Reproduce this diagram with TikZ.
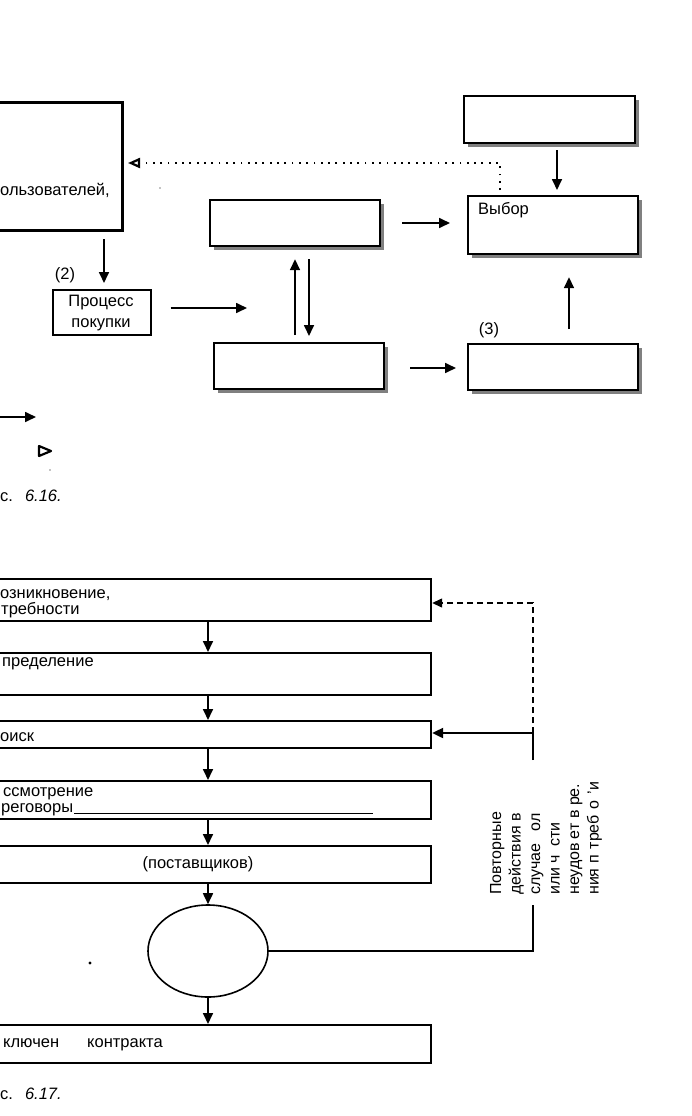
\documentclass[tikz,border=0pt]{standalone}
\usepackage{fontspec}
\setmainfont{Liberation Sans}
\usetikzlibrary{arrows.meta,shadows,shapes.geometric}
\begin{document}
\begin{tikzpicture}[x=1pt,y=-1pt,
  txt/.style={inner sep=0pt, font=\fontsize{16.5}{21}\selectfont},
  btxt/.style={inner sep=0pt, font=\fontsize{16.5}{16}\selectfont},
  box/.style={draw, fill=white, line width=2.2pt, anchor=north west, inner sep=0pt},
  sbox/.style={box, drop shadow={shadow xshift=4pt, shadow yshift=-4pt, fill=black!50, opacity=1}},
  arr/.style={line width=1.7pt, -{Triangle[length=11pt,width=10pt]}},
  thinl/.style={line width=1.4pt},
]
\useasboundingbox (0,0) rectangle (692,1116);
\fill[white] (0,0) rectangle (692,1116);

% ---------- Fig. 6.16 ----------
\node[box, line width=3pt, minimum width=141pt, minimum height=128pt] (big) at (-20,101) {};
\node[txt, anchor=base west] (bigt) at (0,195) {ользователей,};
\node[box, line width=1.6pt, minimum width=98pt, minimum height=45pt] (proc) at (52,289) {};
\node[txt, align=center] (proct) at (101,313) {Процесс\\покупки};
\node[sbox, minimum width=170pt, minimum height=46pt] (A) at (209,199) {};
\node[sbox, minimum width=170pt, minimum height=46pt] (B) at (213,342) {};
\node[sbox, minimum width=171pt, minimum height=47pt] (T) at (463,95) {};
\node[sbox, minimum width=170pt, minimum height=58pt] (V) at (467,195) {};
\node[sbox, minimum width=170pt, minimum height=46pt] (C) at (467,343) {};
\node[txt, anchor=base west] (vt) at (478,214) {Выбор};
\node[txt, anchor=base] (l2) at (65,279) {(2)};
\node[txt, anchor=base] (l3) at (489,334) {(3)};

\coordinate (p2) at (104,0);
\draw[arr, shorten <=7pt, shorten >=6pt] (big.south -| p2) -- (proc.north -| p2);
\coordinate (pa) at (247,308);
\draw[arr, shorten <=19pt] (proc.east |- pa) -- (pa);
\coordinate (up) at (295,0);
\coordinate (dn) at (309,0);
\draw[arr, shorten <=7pt, shorten >=12pt] (B.north -| up) -- (A.south -| up);
\draw[arr, shorten <=12pt, shorten >=6pt] (A.south -| dn) -- (B.north -| dn);
\coordinate (av) at (0,223);
\draw[arr, shorten <=21pt, shorten >=17pt] (A.east |- av) -- (V.west |- av);
\coordinate (tv) at (557,0);
\draw[arr, shorten <=6pt, shorten >=5pt] (T.south -| tv) -- (V.north -| tv);
\coordinate (cv) at (569,0);
\draw[arr, shorten <=14pt, shorten >=22pt] (C.north -| cv) -- (V.south -| cv);
\coordinate (bc) at (0,368);
\draw[arr, shorten <=25pt, shorten >=11pt] (B.east |- bc) -- (C.west |- bc);

\coordinate (dc) at (500,163);
\draw[line width=1.6pt, dash pattern=on 1.8pt off 5.5pt, -{Triangle[open,length=12pt,width=10pt,line width=2.2pt,sep=0pt]}, shorten >=4pt]
  ([yshift=5pt]V.north -| dc) -- (dc) -- (big.east |- dc);

% legend
\coordinate (la) at (0,417);
\coordinate (lb) at (36,417);
\draw[arr] (la) -- (lb);
\draw[line width=2.2pt, line join=round] (39,446) -- (51,451) -- (39,456) -- cycle;
\node[anchor=base west, inner sep=0pt, font=\fontsize{16.5}{18}\selectfont] (cap1) at (0,501) {с.\hspace{12pt}\textit{6.16.}};
\fill (160,188) circle (0.7);
\fill (50,470) circle (0.7);

% ---------- Fig. 6.17 ----------
\node[box, minimum width=450pt, minimum height=42pt] (b1) at (-20,578) {};
\node[box, minimum width=450pt, minimum height=42pt] (b2) at (-20,652) {};
\node[box, minimum width=450pt, minimum height=27pt] (b3) at (-20,720) {};
\node[box, minimum width=450pt, minimum height=38pt] (b4) at (-20,780) {};
\node[box, minimum width=450pt, minimum height=37pt] (b5) at (-20,845) {};
\node[draw, ellipse, line width=1.6pt, minimum width=120pt, minimum height=92pt, inner sep=0pt] (ell) at (208,951) {};
\node[box, minimum width=450pt, minimum height=38pt] (b7) at (-20,1024) {};

\node[btxt, anchor=base west] (t1a) at (0,598) {озникновение,};
\node[btxt, anchor=base west] (t1b) at (1,614) {требности};
\node[btxt, anchor=base west] (t2) at (2,666) {пределение};
\node[btxt, anchor=base west] (t3) at (0,741) {оиск};
\node[btxt, anchor=base west] (t4a) at (3,796) {ссмотрение};
\node[btxt, anchor=base west] (t4b) at (1,812) {реговоры};
\draw[line width=0.9pt] ([xshift=1pt,yshift=-1pt]t4b.base east) -- (373,813);
\node[btxt, anchor=base] (t5) at (198,868) {(поставщиков)};
\node[btxt, anchor=base west] (t7a) at (3,1047) {ключен};
\node[btxt, anchor=base west] (t7b) at (87,1047) {контракта};

\coordinate (cx) at (208,0);
\draw[arr] (b1.south -| cx) -- (b2.north -| cx);
\draw[arr] (b2.south -| cx) -- (b3.north -| cx);
\draw[arr] (b3.south -| cx) -- (b4.north -| cx);
\draw[arr] (b4.south -| cx) -- (b5.north -| cx);
\draw[arr] (b5.south -| cx) -- (ell.north);
\draw[arr] (ell.south) -- (b7.north -| cx);

\coordinate (fx) at (533,0);
\coordinate (g1) at (533,905);
\coordinate (g2) at (533,760);
\coordinate (j) at (533,733);
\coordinate (k) at (533,603);
\draw[thinl] (ell.east) -- (ell.east -| fx) -- (g1);
\draw[thinl] (g2) -- (j);
\draw[arr, line width=2.2pt] (j) -- (b3.east |- j);
\draw[line width=1.3pt, dash pattern=on 6pt off 4pt, -{Triangle[length=10pt,width=9pt]}] (j) -- (k) -- (b1.east |- k);

\node[rotate=90, anchor=north west, align=left, inner sep=0pt, font=\fontsize{16}{19.5}\selectfont] (rep) at (490,895)
  {Повторные\\действия в\\случае\hspace{12pt}ол\\или ч\hspace{8pt}сти\\неудов\hspace{4pt}ет в ре.\\ния п\hspace{6pt}треб\hspace{6pt}о\hspace{6pt}'и};

\fill (90,963) circle (1.6);
\node[anchor=base west, inner sep=0pt, font=\fontsize{16.5}{18}\selectfont] (cap2) at (0,1099) {с.\hspace{12pt}\textit{6.17.}};
\end{tikzpicture}
\end{document}
